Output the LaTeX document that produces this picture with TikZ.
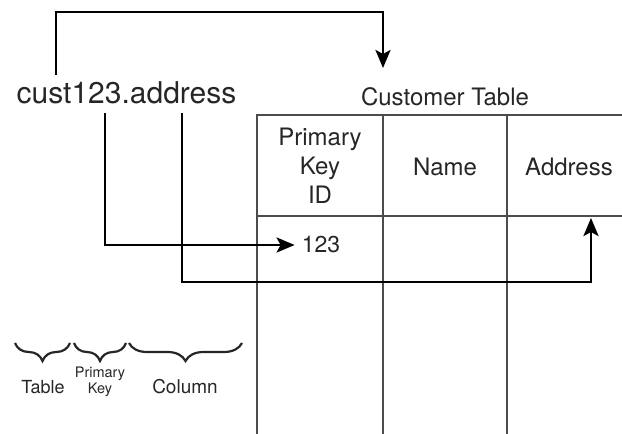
\documentclass[tikz,border=0pt]{standalone}
\usepackage{fontspec}
\setmainfont{TeX Gyre Heros}
\usetikzlibrary{calc,arrows.meta,decorations.pathreplacing}

\begin{document}
\begin{tikzpicture}[x=1pt,y=-1pt,
  link/.style={line width=2.8pt,-{Stealth[length=18pt,width=15pt,inset=4pt]}},
  rule/.style={line width=1.9pt,draw=black!70},
  curly/.style={line width=2.2pt,draw=black!85,decoration={brace,mirror,amplitude=18pt},decorate},
  txt/.style={inner sep=0pt,align=center,text=black!85}]

\useasboundingbox (0,0) rectangle (622,434);

% Define coordinates
\coordinate (TL) at (257,115);
\coordinate (TR) at (622,115);
\coordinate (HL) at (257,216);
\coordinate (HR) at (622,216);
\coordinate (BL) at (257,434);
\coordinate (C1) at (383,115);
\coordinate (C2) at (507,115);

% Draw table
\draw[rule] (BL) -- (TL) -- (TR);
\draw[rule] (HL) -- (HR);
\draw[rule] (C1) -- (C1 |- BL);
\draw[rule] (C2) -- (C2 |- BL);

% Texts
\node[txt,anchor=base,font=\fontsize{30}{36}\selectfont] (ref) at (126.5,103) {cust123.address};
\node[txt,anchor=base,font=\fontsize{24}{29}\selectfont] (title) at (445,105) {Customer Table};
\node[txt,font=\fontsize{24}{29}\selectfont] (pk) at (320,166) {Primary\\Key\\ID};
\node[txt,font=\fontsize{24}{29}\selectfont] (name) at (445,167) {Name};
\node[txt,font=\fontsize{24}{29}\selectfont] (addr) at (569,167) {Address};
\node[txt,font=\fontsize{23}{28}\selectfont] (val) at (321,245) {123};

% Arrows from the reference
\coordinate (s1) at (56,75);
\coordinate (t1) at (383,68);
\draw[link] (s1) -- ++(0,-63) -| (t1);

\coordinate (s2) at (105,113);
\draw[link] (s2) |- ([xshift=-7pt]val.west);

\coordinate (s3) at (182,113);
\coordinate (t3) at (591,218);
\draw[link] (s3) -- ++(0,169) -| (t3);

% Braces under the parts
\draw[curly] (15,343) -- (70,343);
\draw[curly] (74,343) -- (126,343);
\draw[curly] (129,343) -- (242,343);

\node[txt,anchor=base,font=\fontsize{18}{21}\selectfont] (lt) at (43,393) {Table};
\node[txt,anchor=base,font=\fontsize{14.5}{16}\selectfont] (lk) at (100,393) {Primary\\Key};
\node[txt,anchor=base,font=\fontsize{19}{22}\selectfont] (lc) at (185,393) {Column};

\end{tikzpicture}
\end{document}
